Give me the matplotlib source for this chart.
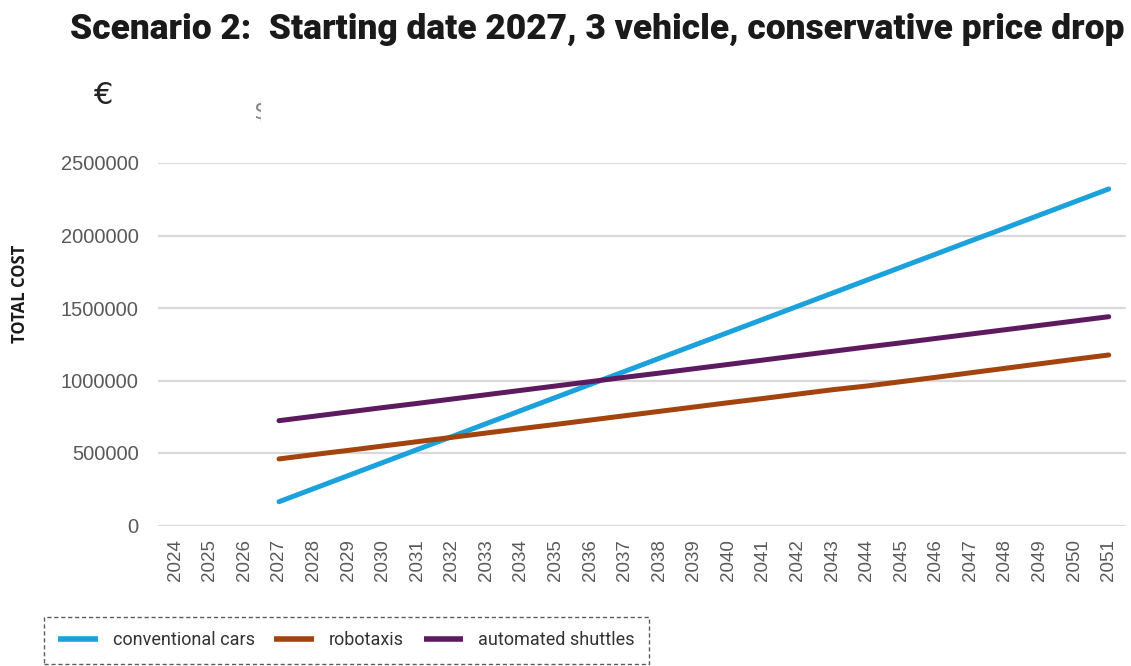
import matplotlib
matplotlib.use("Agg")
import matplotlib.pyplot as plt
from matplotlib.transforms import Bbox

# years on the axis and the years that have data
years = [str(y) for y in range(2024, 2052)]
data_years = [str(y) for y in range(2027, 2052)]

conventional_cars = [164000, 254000, 344000, 434000, 524000, 613000, 703000, 793000,
                     883000, 973000, 1063000, 1153000, 1243000, 1332000, 1422000,
                     1512000, 1602000, 1692000, 1782000, 1872000, 1962000, 2051000,
                     2141000, 2231000, 2321000]
robotaxis = [459000, 489000, 518000, 548000, 578000, 608000, 638000, 668000, 697000,
             727000, 757000, 787000, 817000, 847000, 876000, 906000, 936000, 962000,
             992000, 1022000, 1053000, 1084000, 1115000, 1146000, 1176000]
automated_shuttles = [723000, 753000, 783000, 813000, 842000, 872000, 902000, 932000,
                      962000, 992000, 1022000, 1051000, 1081000, 1111000, 1141000,
                      1171000, 1201000, 1231000, 1260000, 1290000, 1320000, 1350000,
                      1380000, 1410000, 1440000]

series = [("conventional cars", conventional_cars, "#1ba1db"),
          ("robotaxis", robotaxis, "#a3440f"),
          ("automated shuttles", automated_shuttles, "#5e1a5e")]

W, H = 1131, 666
fig = plt.figure(figsize=(W / 100, H / 100), dpi=100)
ax = fig.add_axes([158 / W, 1 - 525.5 / H, (1126 - 158) / W, (525.5 - 163) / H])

# register all year categories first so the axis starts at 2024
ax.plot(years, [None] * len(years), alpha=0)
for name, vals, col in series:
    ax.plot(data_years, vals, color=col, lw=3.6, solid_capstyle="round", label=name)

ax.set_xlim(-0.5, len(years) - 0.5)
ax.set_ylim(0, 2500000)
ax.set_yticks([0, 500000, 1000000, 1500000, 2000000, 2500000])
ax.set_yticklabels(["0", "500000", "1000000", "1500000", "2000000", "2500000"])
ax.grid(axis="y", color="#d9d9d9", lw=1.6)
ax.set_axisbelow(True)
for s in ax.spines.values():
    s.set_visible(False)
ax.tick_params(axis="both", length=0, labelcolor="#595959")
ax.tick_params(axis="y", pad=14, labelsize=14.5)
ax.tick_params(axis="x", pad=10, labelsize=13.5, labelrotation=90)
for lab in ax.get_xticklabels() + ax.get_yticklabels():
    lab.set_fontfamily("Liberation Sans")

fig.text(20 / W, 1 - 294 / H, "TOTAL COST", rotation=90, ha="center", va="center",
         fontsize=12, fontweight="bold", family="Open Sans", color="#1a1a1a")

fig.text(597 / W, 1 - 39 / H,
         "Scenario 2:  Starting date 2027, 3 vehicle, conservative price drop",
         ha="center", va="baseline", fontsize=25.5, fontweight="black",
         family="Roboto", color="#1a1a1a")

fig.text(104 / W, 1 - 96 / H, "€", ha="center", va="center", fontsize=22,
         family="DejaVu Sans", color="#222222")

# clipped glyph remnant near the top left
t = fig.text(262 / W, 1 - 112 / H, "\\$", ha="center", va="center", fontsize=17,
             family="DejaVu Sans", color="#8a8a8a")
t.set_clip_box(Bbox.from_extents(250, H - 126, 261, H - 98))

leg = fig.legend(loc="upper left", bbox_to_anchor=(44 / W, 1 - 617 / H),
                 ncol=3, frameon=True, fancybox=False, borderpad=0.8,
                 borderaxespad=0, handlelength=2.2, handletextpad=0.8,
                 columnspacing=1.1, prop={"family": "Roboto", "size": 13})
fr = leg.get_frame()
fr.set_linestyle((0, (3, 2)))
fr.set_edgecolor("#333333")
fr.set_linewidth(1.0)
for txt in leg.get_texts():
    txt.set_color("#333333")
for ln in leg.get_lines():
    ln.set_linewidth(4)
    ln.set_solid_capstyle("butt")

fig.savefig("out.png", dpi=100)
